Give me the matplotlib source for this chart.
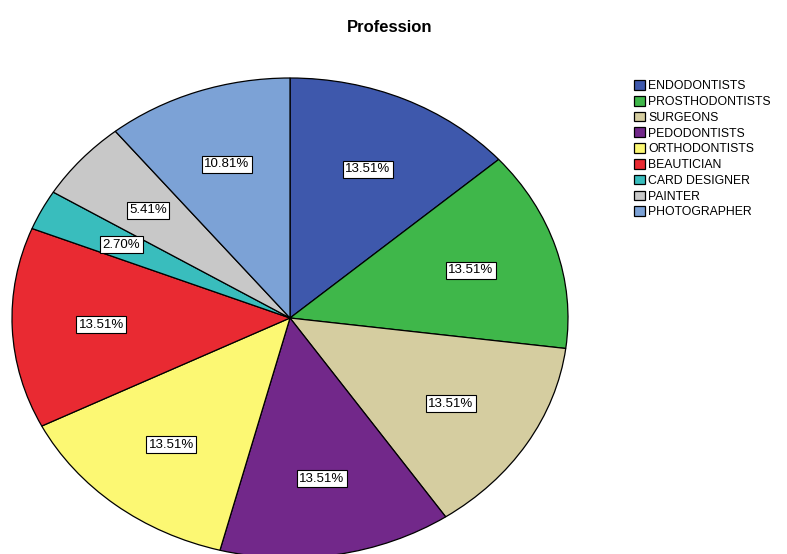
import matplotlib.pyplot as plt

plt.rcParams['font.family'] = ['Liberation Sans', 'DejaVu Sans']

professions = ['ENDODONTISTS', 'PROSTHODONTISTS', 'SURGEONS', 'PEDODONTISTS',
               'ORTHODONTISTS', 'BEAUTICIAN', 'CARD DESIGNER', 'PAINTER', 'PHOTOGRAPHER']
counts = [5, 5, 5, 5, 5, 5, 1, 2, 4]
colors = ['#3e58ac', '#3fb74a', '#d5cda0', '#72288a', '#fcf873',
          '#e92a32', '#39bdbd', '#c8c8c8', '#7ca2d6']

W, H = 787, 554
fig = plt.figure(figsize=(W / 100, H / 100), dpi=100)

# pie is drawn as an ellipse: centre (290, 318) px, radii 278 x 240
cx, cy, rx, ry = 290, 318, 278, 240
ax = fig.add_axes([(cx - rx) / W, (H - cy - ry) / H, 2 * rx / W, 2 * ry / H])

wedges, texts, autotexts = ax.pie(
    counts, colors=colors, startangle=90, counterclock=False,
    autopct='%1.2f%%', pctdistance=0.68,
    wedgeprops=dict(edgecolor='black', linewidth=0.9),
    textprops=dict(fontsize=9.5))
for t in autotexts:
    t.set_bbox(dict(facecolor='white', edgecolor='black', linewidth=0.8, pad=1.8))
ax.set_xlim(-1, 1)
ax.set_ylim(-1, 1)
ax.set_aspect('auto')

fig.text(390 / W, 1 - 28 / H, 'Profession', ha='center', va='center',
         fontsize=12, fontweight='bold')

fig.legend(wedges, professions, loc='upper left', bbox_to_anchor=(628 / W, 1 - 74 / H),
           frameon=False, fontsize=8.8, handlelength=0.85, handleheight=0.85,
           handletextpad=0.3, labelspacing=0.3, borderpad=0)

fig.savefig('out.png', dpi=100)
